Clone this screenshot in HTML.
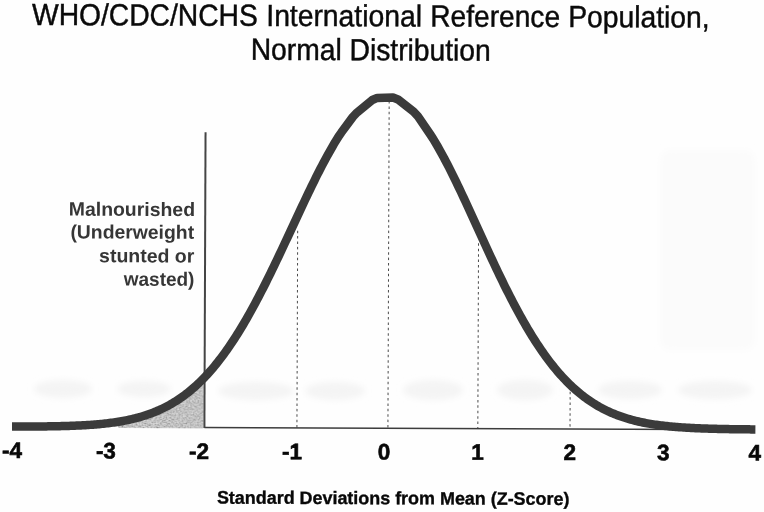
<!DOCTYPE html>
<html><head><meta charset="utf-8"><style>
html,body{margin:0;padding:0;background:#fefefe;}
body{width:764px;height:512px;overflow:hidden;position:relative;}
svg{position:absolute;left:0;top:0;filter:grayscale(100%);}
text{font-family:"Liberation Sans",sans-serif;}
</style></head><body>
<svg width="764" height="512" viewBox="0 0 764 512">
<rect width="764" height="512" fill="#fefefe"/>
<defs><filter id="nz" x="0" y="0" width="100%" height="100%"><feTurbulence type="fractalNoise" baseFrequency="0.7" numOctaves="2" seed="7" result="t"/><feColorMatrix in="t" type="matrix" values="2 0 0 0 -0.5  2 0 0 0 -0.5  2 0 0 0 -0.5  0 0 0 0 0.45" result="g"/><feComposite in="g" in2="SourceGraphic" operator="in"/></filter><filter id="bl" x="-20%" y="-50%" width="140%" height="200%"><feGaussianBlur stdDeviation="3"/></filter></defs>
<g fill="#f4f4f4" filter="url(#bl)">
<ellipse cx="63" cy="389" rx="29" ry="9"/>
<ellipse cx="144" cy="389" rx="27" ry="8"/>
<ellipse cx="256" cy="391" rx="38" ry="9"/>
<ellipse cx="335" cy="391" rx="30" ry="9"/>
<ellipse cx="433" cy="390" rx="30" ry="10"/>
<ellipse cx="525" cy="390" rx="28" ry="10"/>
<ellipse cx="630" cy="390" rx="32" ry="9"/>
<ellipse cx="715" cy="390" rx="37" ry="9"/>
</g>
<g fill="#fbfbfb" filter="url(#bl)">
<rect x="660" y="150" width="95" height="200" rx="10"/>
</g>
<g transform="rotate(0.22 382 256)">
<path d="M119,428.9 L119.00,422.77 L120.00,422.60 L121.00,422.43 L122.00,422.25 L123.00,422.07 L124.00,421.88 L125.00,421.69 L126.00,421.49 L127.00,421.29 L128.00,421.08 L129.00,420.87 L130.00,420.65 L131.00,420.42 L132.00,420.19 L133.00,419.96 L134.00,419.71 L135.00,419.46 L136.00,419.21 L137.00,418.95 L138.00,418.68 L139.00,418.40 L140.00,418.12 L141.00,417.83 L142.00,417.54 L143.00,417.23 L144.00,416.92 L145.00,416.60 L146.00,416.28 L147.00,415.94 L148.00,415.60 L149.00,415.25 L150.00,414.89 L151.00,414.53 L152.00,414.15 L153.00,413.77 L154.00,413.38 L155.00,412.97 L156.00,412.56 L157.00,412.14 L158.00,411.71 L159.00,411.28 L160.00,410.83 L161.00,410.37 L162.00,409.90 L163.00,409.42 L164.00,408.93 L165.00,408.43 L166.00,407.92 L167.00,407.40 L168.00,406.87 L169.00,406.32 L170.00,405.77 L171.00,405.20 L172.00,404.62 L173.00,404.03 L174.00,403.43 L175.00,402.82 L176.00,402.19 L177.00,401.55 L178.00,400.90 L179.00,400.24 L180.00,399.56 L181.00,398.87 L182.00,398.17 L183.00,397.45 L184.00,396.72 L185.00,395.98 L186.00,395.22 L187.00,394.45 L188.00,393.67 L189.00,392.87 L190.00,392.05 L191.00,391.23 L192.00,390.38 L193.00,389.53 L194.00,388.65 L195.00,387.77 L196.00,386.86 L197.00,385.95 L198.00,385.01 L199.00,384.07 L200.00,383.10 L201.00,382.12 L202.00,381.13 L203.00,380.11 L204.00,379.09 L205.00,378.04 L205.07,377.97 L204.07,379.01 L204.07,428.9 Z" fill="#c6c6c6"/>
<path d="M119,428.9 L119.00,422.77 L120.00,422.60 L121.00,422.43 L122.00,422.25 L123.00,422.07 L124.00,421.88 L125.00,421.69 L126.00,421.49 L127.00,421.29 L128.00,421.08 L129.00,420.87 L130.00,420.65 L131.00,420.42 L132.00,420.19 L133.00,419.96 L134.00,419.71 L135.00,419.46 L136.00,419.21 L137.00,418.95 L138.00,418.68 L139.00,418.40 L140.00,418.12 L141.00,417.83 L142.00,417.54 L143.00,417.23 L144.00,416.92 L145.00,416.60 L146.00,416.28 L147.00,415.94 L148.00,415.60 L149.00,415.25 L150.00,414.89 L151.00,414.53 L152.00,414.15 L153.00,413.77 L154.00,413.38 L155.00,412.97 L156.00,412.56 L157.00,412.14 L158.00,411.71 L159.00,411.28 L160.00,410.83 L161.00,410.37 L162.00,409.90 L163.00,409.42 L164.00,408.93 L165.00,408.43 L166.00,407.92 L167.00,407.40 L168.00,406.87 L169.00,406.32 L170.00,405.77 L171.00,405.20 L172.00,404.62 L173.00,404.03 L174.00,403.43 L175.00,402.82 L176.00,402.19 L177.00,401.55 L178.00,400.90 L179.00,400.24 L180.00,399.56 L181.00,398.87 L182.00,398.17 L183.00,397.45 L184.00,396.72 L185.00,395.98 L186.00,395.22 L187.00,394.45 L188.00,393.67 L189.00,392.87 L190.00,392.05 L191.00,391.23 L192.00,390.38 L193.00,389.53 L194.00,388.65 L195.00,387.77 L196.00,386.86 L197.00,385.95 L198.00,385.01 L199.00,384.07 L200.00,383.10 L201.00,382.12 L202.00,381.13 L203.00,380.11 L204.00,379.09 L205.00,378.04 L205.07,377.97 L204.07,379.01 L204.07,428.9 Z" fill="#000" filter="url(#nz)"/>
<g stroke="#4a4a4a" stroke-width="1" stroke-dasharray="2.5 2.9" fill="none">
<line x1="297.58" y1="231" x2="297.58" y2="428"/><line x1="388.58" y1="101" x2="388.58" y2="428"/><line x1="478.48" y1="243" x2="478.48" y2="428"/><line x1="570.68" y1="391" x2="570.68" y2="428"/>
</g>
<line x1="205.07" y1="428.3" x2="690" y2="428.3" stroke="#3c3c3c" stroke-width="1.5"/>
<line x1="205.07" y1="133" x2="205.07" y2="428.7" stroke="#454545" stroke-width="2"/>
<path d="M12.66,428.00 L14.16,427.99 L15.66,427.98 L17.16,427.98 L18.66,427.97 L20.16,427.96 L21.66,427.95 L23.16,427.94 L24.66,427.93 L26.16,427.92 L27.66,427.91 L29.16,427.90 L30.66,427.88 L32.16,427.87 L33.66,427.85 L35.16,427.84 L36.66,427.82 L38.16,427.80 L39.66,427.79 L41.16,427.77 L42.66,427.75 L44.16,427.72 L45.66,427.70 L47.16,427.68 L48.66,427.65 L50.16,427.62 L51.66,427.59 L53.16,427.56 L54.66,427.53 L56.16,427.50 L57.66,427.46 L59.16,427.43 L60.66,427.39 L62.16,427.34 L63.66,427.30 L65.16,427.25 L66.66,427.21 L68.16,427.16 L69.66,427.10 L71.16,427.04 L72.66,426.99 L74.16,426.92 L75.66,426.86 L77.16,426.79 L78.66,426.72 L80.16,426.64 L81.66,426.56 L83.16,426.48 L84.66,426.39 L86.16,426.29 L87.66,426.20 L89.16,426.10 L90.66,425.99 L92.16,425.88 L93.66,425.76 L95.16,425.64 L96.66,425.51 L98.16,425.38 L99.66,425.24 L101.16,425.09 L102.66,424.94 L104.16,424.78 L105.66,424.61 L107.16,424.44 L108.66,424.26 L110.16,424.07 L111.66,423.87 L113.16,423.66 L114.66,423.45 L116.16,423.22 L117.66,422.99 L119.16,422.74 L120.66,422.49 L122.16,422.22 L123.66,421.95 L125.16,421.66 L126.66,421.36 L128.16,421.05 L129.66,420.72 L131.16,420.39 L132.66,420.04 L134.16,419.67 L135.66,419.30 L137.16,418.91 L138.66,418.50 L140.16,418.08 L141.66,417.64 L143.16,417.18 L144.66,416.71 L146.16,416.23 L147.66,415.72 L149.16,415.20 L150.66,414.65 L152.16,414.09 L153.66,413.51 L155.16,412.91 L156.66,412.29 L158.16,411.64 L159.66,410.98 L161.16,410.29 L162.66,409.58 L164.16,408.85 L165.66,408.09 L167.16,407.31 L168.66,406.51 L170.16,405.68 L171.66,404.82 L173.16,403.94 L174.66,403.03 L176.16,402.09 L177.66,401.12 L179.16,400.13 L180.66,399.11 L182.16,398.05 L183.66,396.97 L185.16,395.86 L186.66,394.72 L188.16,393.54 L189.66,392.33 L191.16,391.09 L192.66,389.82 L194.16,388.51 L195.66,387.17 L197.16,385.80 L198.66,384.39 L200.16,382.95 L201.66,381.47 L203.16,379.95 L204.66,378.40 L206.16,376.81 L207.66,375.19 L209.16,373.53 L210.66,371.83 L212.16,370.09 L213.66,368.32 L215.16,366.50 L216.66,364.65 L218.16,362.76 L219.66,360.83 L221.16,358.87 L222.66,356.86 L224.16,354.82 L225.66,352.73 L227.16,350.61 L228.66,348.45 L230.16,346.25 L231.66,344.01 L233.16,341.74 L234.66,339.42 L236.16,337.07 L237.66,334.68 L239.16,332.25 L240.66,329.78 L242.16,327.28 L243.66,324.74 L245.16,322.17 L246.66,319.55 L248.16,316.91 L249.66,314.23 L251.16,311.51 L252.66,308.76 L254.16,305.98 L255.66,303.17 L257.16,300.33 L258.66,297.45 L260.16,294.55 L261.66,291.62 L263.16,288.66 L264.66,285.67 L266.16,282.66 L267.66,279.62 L269.16,276.56 L270.66,273.48 L272.16,270.37 L273.66,267.25 L275.16,264.11 L276.66,260.94 L278.16,257.77 L279.66,254.58 L281.16,251.37 L282.66,248.15 L284.16,244.93 L285.66,241.69 L287.16,238.45 L288.66,235.20 L290.16,231.95 L291.66,228.69 L293.16,225.44 L294.66,222.18 L296.16,218.93 L297.66,215.68 L299.16,212.44 L300.66,209.20 L302.16,205.98 L303.66,202.77 L305.16,199.57 L306.66,196.39 L308.16,193.22 L309.66,190.08 L311.16,186.95 L312.66,183.85 L314.16,180.78 L315.66,177.73 L317.16,174.71 L318.66,171.72 L320.16,168.76 L321.66,165.84 L323.16,162.96 L324.66,160.11 L326.50,156.68 L327.28,155.29 L332.22,146.48 L333.72,143.90 L338.28,136.41 L340.82,132.75 L352.34,116.99 L356.55,112.53 L371.70,100.01 L376.59,97.96 L392.40,97.52 L397.36,99.36 L412.99,111.46 L417.44,116.26 L430.01,134.56 L432.72,138.66 L437.28,146.30 L438.72,148.81 L443.28,157.05 L444.00,158.35 L445.50,161.17 L447.00,164.03 L448.50,166.93 L450.00,169.86 L451.50,172.83 L453.00,175.83 L454.50,178.86 L456.00,181.92 L457.50,185.01 L459.00,188.12 L460.50,191.25 L462.00,194.40 L463.50,197.57 L465.00,200.76 L466.50,203.97 L468.00,207.18 L469.50,210.41 L471.00,213.65 L472.50,216.89 L474.00,220.14 L475.50,223.40 L477.00,226.65 L478.50,229.91 L480.00,233.16 L481.50,236.41 L483.00,239.66 L484.50,242.90 L486.00,246.13 L487.50,249.36 L489.00,252.57 L490.50,255.77 L492.00,258.96 L493.50,262.13 L495.00,265.28 L496.50,268.42 L498.00,271.53 L499.50,274.63 L501.00,277.71 L502.50,280.76 L504.00,283.79 L505.50,286.79 L507.00,289.77 L508.50,292.72 L510.00,295.64 L511.50,298.53 L513.00,301.39 L514.50,304.23 L516.00,307.03 L517.50,309.79 L519.00,312.53 L520.50,315.23 L522.00,317.90 L523.50,320.53 L525.00,323.13 L526.50,325.69 L528.00,328.22 L529.50,330.71 L531.00,333.16 L532.50,335.57 L534.00,337.95 L535.50,340.29 L537.00,342.59 L538.50,344.85 L540.00,347.08 L541.50,349.26 L543.00,351.41 L544.50,353.52 L546.00,355.59 L547.50,357.61 L549.00,359.61 L550.50,361.56 L552.00,363.47 L553.50,365.35 L555.00,367.18 L556.50,368.98 L558.00,370.74 L559.50,372.47 L561.00,374.15 L562.50,375.80 L564.00,377.41 L565.50,378.98 L567.00,380.52 L568.50,382.02 L570.00,383.49 L571.50,384.92 L573.00,386.32 L574.50,387.68 L576.00,389.00 L577.50,390.30 L579.00,391.56 L580.50,392.79 L582.00,393.98 L583.50,395.15 L585.00,396.28 L586.50,397.38 L588.00,398.45 L589.50,399.49 L591.00,400.50 L592.50,401.49 L594.00,402.44 L595.50,403.37 L597.00,404.27 L598.50,405.14 L600.00,405.99 L601.50,406.81 L603.00,407.61 L604.50,408.38 L606.00,409.13 L607.50,409.85 L609.00,410.55 L610.50,411.23 L612.00,411.89 L613.50,412.52 L615.00,413.14 L616.50,413.73 L618.00,414.30 L619.50,414.86 L621.00,415.39 L622.50,415.91 L624.00,416.41 L625.50,416.89 L627.00,417.36 L628.50,417.80 L630.00,418.24 L631.50,418.65 L633.00,419.05 L634.50,419.44 L636.00,419.81 L637.50,420.17 L639.00,420.51 L640.50,420.85 L642.00,421.16 L643.50,421.47 L645.00,421.77 L646.50,422.05 L648.00,422.32 L649.50,422.58 L651.00,422.83 L652.50,423.07 L654.00,423.31 L655.50,423.53 L657.00,423.74 L658.50,423.94 L660.00,424.14 L661.50,424.33 L663.00,424.50 L664.50,424.68 L666.00,424.84 L667.50,425.00 L669.00,425.15 L670.50,425.29 L672.00,425.43 L673.50,425.56 L675.00,425.69 L676.50,425.81 L678.00,425.92 L679.50,426.03 L681.00,426.14 L682.50,426.23 L684.00,426.33 L685.50,426.42 L687.00,426.51 L688.50,426.59 L690.00,426.67 L691.50,426.74 L693.00,426.81 L694.50,426.88 L696.00,426.95 L697.50,427.01 L699.00,427.07 L700.50,427.12 L702.00,427.17 L703.50,427.22 L705.00,427.27 L706.50,427.32 L708.00,427.36 L709.50,427.40 L711.00,427.44 L712.50,427.48 L714.00,427.51 L715.50,427.54 L717.00,427.58 L718.50,427.61 L720.00,427.63 L721.50,427.66 L723.00,427.69 L724.50,427.71 L726.00,427.73 L727.50,427.75 L729.00,427.77 L730.50,427.79 L732.00,427.81 L733.50,427.83 L735.00,427.84 L736.50,427.86 L738.00,427.87 L739.50,427.89 L741.00,427.90 L742.50,427.91 L744.00,427.92 L745.50,427.93 L747.00,427.94 L748.50,427.95 L750.00,427.96 L751.50,427.97 L753.00,427.98 L754.50,427.99 L756.00,427.99 L756.07,427.99" fill="none" stroke="#3b3b3b" stroke-width="8.5" stroke-linejoin="round"/>
<text transform="translate(31.12,26.35) scale(0.9256,1)" font-size="30.5" font-weight="normal" fill="#0a0a0a" letter-spacing="0" stroke="#0a0a0a" stroke-width="0.45">WHO/CDC/NCHS</text>
<text transform="translate(265.39,26.35) scale(0.9277,1)" font-size="30.5" font-weight="normal" fill="#0a0a0a" letter-spacing="0" stroke="#0a0a0a" stroke-width="0.45">International</text>
<text transform="translate(429.44,26.34) scale(0.9217,1)" font-size="30.5" font-weight="normal" fill="#0a0a0a" letter-spacing="0" stroke="#0a0a0a" stroke-width="0.45">Reference</text>
<text transform="translate(567.34,26.35) scale(0.9266,1)" font-size="30.5" font-weight="normal" fill="#0a0a0a" letter-spacing="0" stroke="#0a0a0a" stroke-width="0.45">Population,</text>
<text transform="translate(249.96,60.30) scale(0.9264,1)" font-size="30.5" font-weight="normal" fill="#0a0a0a" letter-spacing="0" stroke="#0a0a0a" stroke-width="0.45">Normal Distribution</text>
<text transform="translate(68.62,216.80) scale(1.0064,1)" font-size="19.3" font-weight="bold" fill="#363636" letter-spacing="0">Malnourished</text>
<text transform="translate(70.31,239.59) scale(1.0041,1)" font-size="19.3" font-weight="bold" fill="#363636" letter-spacing="0">(Underweight</text>
<text transform="translate(99.10,263.28) scale(1.0091,1)" font-size="19.3" font-weight="bold" fill="#363636" letter-spacing="0">stunted or</text>
<text transform="translate(123.92,286.59) scale(0.9830,1)" font-size="19.3" font-weight="bold" fill="#363636" letter-spacing="0">wasted)</text>
<text transform="translate(2.76,459.55) scale(1.0000,1)" font-size="22.5" font-weight="bold" fill="#080808" letter-spacing="0" stroke="#080808" stroke-width="0.6">-4</text>
<text transform="translate(96.66,459.69) scale(1.0000,1)" font-size="22.5" font-weight="bold" fill="#080808" letter-spacing="0" stroke="#080808" stroke-width="0.6">-3</text>
<text transform="translate(189.76,459.64) scale(1.0000,1)" font-size="22.5" font-weight="bold" fill="#080808" letter-spacing="0" stroke="#080808" stroke-width="0.6">-2</text>
<text transform="translate(282.76,459.58) scale(1.0000,1)" font-size="22.5" font-weight="bold" fill="#080808" letter-spacing="0" stroke="#080808" stroke-width="0.6">-1</text>
<text transform="translate(378.46,459.41) scale(1.0000,1)" font-size="22.5" font-weight="bold" fill="#080808" letter-spacing="0" stroke="#080808" stroke-width="0.6">0</text>
<text transform="translate(472.06,459.35) scale(1.0000,1)" font-size="22.5" font-weight="bold" fill="#080808" letter-spacing="0" stroke="#080808" stroke-width="0.6">1</text>
<text transform="translate(564.36,459.20) scale(1.0000,1)" font-size="22.5" font-weight="bold" fill="#080808" letter-spacing="0" stroke="#080808" stroke-width="0.6">2</text>
<text transform="translate(657.66,459.24) scale(1.0000,1)" font-size="22.5" font-weight="bold" fill="#080808" letter-spacing="0" stroke="#080808" stroke-width="0.6">3</text>
<text transform="translate(749.36,459.19) scale(1.0000,1)" font-size="22.5" font-weight="bold" fill="#080808" letter-spacing="0" stroke="#080808" stroke-width="0.6">4</text>
<text transform="translate(217.86,504.23) scale(0.9963,1)" font-size="18" font-weight="bold" fill="#080808" letter-spacing="0" stroke="#080808" stroke-width="0.35">Standard Deviations from Mean (Z-Score)</text>
</g>
</svg>
</body></html>
